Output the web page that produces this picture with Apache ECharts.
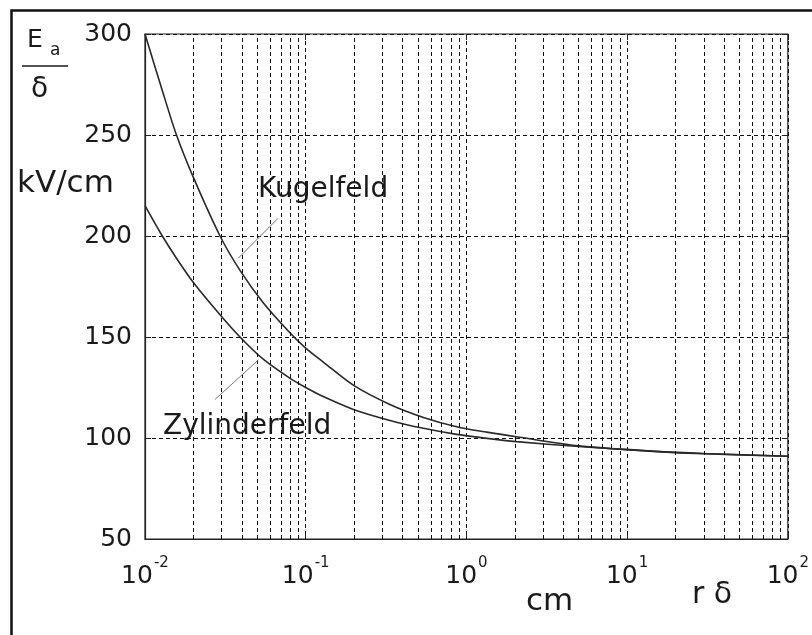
<!DOCTYPE html>
<html>
<head>
<meta charset="utf-8">
<script src="https://cdn.jsdelivr.net/npm/echarts@6/dist/echarts.min.js"></script>
<style>
  html, body { margin: 0; padding: 0; background: #fff; }
  #chart { width: 812px; height: 635px; }
</style>
</head>
<body>
<div id="chart"></div>
<script>
// r·δ in cm (log axis)
const rDelta = [0.01, 0.0127, 0.0157, 0.02, 0.0293, 0.039, 0.0544, 0.08, 0.1, 0.1286,
                0.2, 0.334, 0.54, 0.87, 1.34, 2.05, 5, 14.5, 30, 100];
// Ea/δ in kV/cm
const kugelfeld = [300, 273, 250, 229, 200, 183, 167, 152, 144.5, 137.6,
                   125.9, 116.6, 110.2, 105.6, 102.9, 100.6, 96.1, 93.5, 92.3, 91];
const zylinderfeld = [215, 200.5, 189, 177, 161, 150, 139, 129.5, 125, 120.5,
                      114, 108.7, 104.8, 101.8, 99.8, 98.2, 95.8, 93.4, 92.2, 91];
// minor decade grid lines 2..9
const minorX = [0.02, 0.03, 0.04, 0.05, 0.06, 0.07, 0.08, 0.09,
                0.2, 0.3, 0.4, 0.5, 0.6, 0.7, 0.8, 0.9,
                2, 3, 4, 5, 6, 7, 8, 9,
                20, 30, 40, 50, 60, 70, 80, 90];
const yTicks = [50, 100, 150, 200, 250, 300];
// curve names and where their captions sit (data coords, left / middle of text)
const curveNames = ["Kugelfeld", "Zylinderfeld"];
const captionAt = [[0.0505, 222.8], [0.01295, 105.4]];

const FONT = "'DejaVu Sans', sans-serif";
const INK = "#1a1a1a";
const dash = { color: "#111", width: 1, type: [4, 3] };

const chart = echarts.init(document.getElementById("chart"));

const toPairs = (ys) => rDelta.map((x, i) => [x, ys[i]]);

const leader = (a, b) => ({
  silent: true,
  symbol: ["none", "none"],
  label: { show: false },
  lineStyle: { color: "#777", width: 1, type: "solid" },
  data: [[{ coord: a }, { coord: b }]],
});

const staticGraphic = [
  // outer frame
  { type: "rect", left: 9, top: 8, shape: { width: 840, height: 700 },
    style: { fill: "none", stroke: "#111", lineWidth: 2.5 }, silent: true },
  // y title: Ea / δ, kV/cm
  { type: "text", left: 27, top: 28, style: { text: "E", font: "25px " + FONT, fill: INK } },
  { type: "text", left: 50, top: 42, style: { text: "a", font: "17px " + FONT, fill: INK } },
  { type: "line", shape: { x1: 22, y1: 66, x2: 68, y2: 66 }, style: { stroke: INK, lineWidth: 1.5 } },
  { type: "text", left: 31, top: 76, style: { text: "δ", font: "28px " + FONT, fill: INK } },
  { type: "text", left: 17, top: 168, style: { text: "kV/cm", font: "31px " + FONT, fill: INK } },
  // x title
  { type: "text", left: 526, top: 586, style: { text: "cm", font: "31px " + FONT, fill: INK } },
  { type: "text", left: 692, top: 580, style: { text: "r δ", font: "30px " + FONT, fill: INK } },
];

const option = {
  animation: false,
  backgroundColor: "#fff",
  grid: {
    left: 145, top: 34, right: 24, bottom: 96,
    show: true, borderColor: "#222", borderWidth: 1.2, backgroundColor: "transparent",
  },
  xAxis: [
    {
      type: "log", logBase: 10, min: 0.01, max: 100,
      axisLine: { show: true, lineStyle: { color: "#222", width: 1.2 } },
      axisTick: { show: true, inside: true, length: 6, lineStyle: { color: "#222" } },
      splitLine: { show: true, lineStyle: dash },
      axisLabel: {
        margin: 17,
        formatter: (v) => {
          const e = Math.round(Math.log10(v));
          return "{b|10}{s|" + e + "}";
        },
        rich: {
          b: { fontFamily: FONT, fontSize: 25, color: INK },
          s: { fontFamily: FONT, fontSize: 15, color: INK, padding: [0, 0, 26, 1] },
        },
      },
    },
    {
      type: "log", logBase: 10, min: 0.01, max: 100, position: "top",
      axisLine: { show: false },
      axisTick: { show: true, inside: true, length: 6, lineStyle: { color: "#222" } },
      axisLabel: { show: false },
      splitLine: { show: false },
    },
  ],
  yAxis: [
    {
      type: "value", min: 50, max: 300, interval: 50,
      axisLine: { show: true, lineStyle: { color: "#222", width: 1.2 } },
      axisTick: { show: true, inside: true, length: 6, lineStyle: { color: "#222" } },
      splitLine: { show: true, lineStyle: dash },
      axisLabel: {
        margin: 13, fontFamily: FONT, fontSize: 25, color: INK,
        formatter: (v) => (yTicks.includes(v) ? String(v) : ""),
      },
    },
    {
      type: "value", min: 50, max: 300, interval: 50, position: "right",
      axisLine: { show: false },
      axisTick: { show: true, inside: true, length: 6, lineStyle: { color: "#222" } },
      axisLabel: { show: false },
      splitLine: { show: false },
    },
  ],
  series: [
    {
      name: "minor grid",
      type: "line",
      data: [],
      silent: true,
      markLine: {
        silent: true,
        symbol: ["none", "none"],
        label: { show: false },
        lineStyle: dash,
        data: minorX.map((x) => ({ xAxis: x })),
      },
    },
    {
      name: curveNames[0],
      type: "line",
      data: toPairs(kugelfeld),
      smooth: 0.3,
      showSymbol: false,
      lineStyle: { color: "#2a2a2a", width: 1.6 },
      markLine: leader([0.0674, 208.8], [0.038, 189]),
    },
    {
      name: curveNames[1],
      type: "line",
      data: toPairs(zylinderfeld),
      smooth: 0.3,
      showSymbol: false,
      lineStyle: { color: "#2a2a2a", width: 1.6 },
      markLine: leader([0.0507, 138.6], [0.0272, 119]),
    },
  ],
  graphic: staticGraphic,
};

chart.setOption(option);

// captions placed through the chart's own scales
const captions = curveNames.map((name, i) => {
  const p = chart.convertToPixel({ gridIndex: 0 }, captionAt[i]);
  return {
    type: "text", x: p[0], y: p[1],
    style: { text: name, font: "28px " + FONT, fill: INK, textVerticalAlign: "middle" },
  };
});
chart.setOption({ graphic: staticGraphic.concat(captions) });
</script>
</body>
</html>
